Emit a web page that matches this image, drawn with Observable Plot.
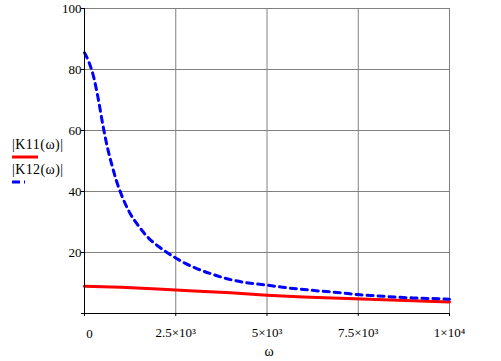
<!DOCTYPE html>
<html><head><meta charset="utf-8">
<script src="https://cdn.jsdelivr.net/npm/d3@7"></script>
<script src="https://cdn.jsdelivr.net/npm/@observablehq/plot@0.6"></script>
<style>body{margin:0;background:#fff} #chart{width:501px;height:361px} #chart svg text{font-family:"Liberation Serif","DejaVu Serif",serif !important}</style>
</head><body><div id="chart"></div>
<script>
const omegaK11 = [0, 1000, 2000, 3000, 4000, 5000, 6000, 7000, 8000, 9000, 10000];
const k11 = [8.9, 8.6, 8.0, 7.4, 6.8, 6.0, 5.4, 5.0, 4.6, 4.2, 3.8];
const omegaK12 = [0, 125, 250, 375, 500, 625, 750, 875, 1000, 1250, 1500, 1750, 2000, 2250, 2500, 2750, 3000, 3500, 4000, 4500, 5000, 5500, 6000, 6500, 7000, 7500, 8000, 8500, 9000, 9500, 10000];
const k12 = [85.5, 82.3, 77.6, 70.5, 62.0, 54.6, 48.7, 43.5, 39.3, 32.8, 28.4, 24.8, 22.2, 20.1, 18.2, 16.5, 15.1, 12.9, 11.1, 10.0, 9.3, 8.5, 7.9, 7.3, 6.8, 6.2, 5.8, 5.4, 5.1, 4.9, 4.7];
const xTicks = [0, 2500, 5000, 7500, 10000];
const xTickLabels = ["0", "2.5×10³", "5×10³", "7.5×10³", "1×10⁴"];
const yTicks = [0, 20, 40, 60, 80, 100];
const yTickLabels = ["", "20", "40", "60", "80", "100"];
const seriesNames = ["|K11(ω)|", "|K12(ω)|"];
const seriesColors = ["#ff0000", "#0000ff"];
const xLabel = "ω";

const d11 = omegaK11.map((w, i) => ({w, v: k11[i]}));
const d12 = omegaK12.map((w, i) => ({w, v: k12[i]}));
const font = "Liberation Serif, DejaVu Serif, serif";

const chart = Plot.plot({
  width: 501, height: 361,
  marginLeft: 84, marginRight: 52, marginTop: 8, marginBottom: 48,
  style: {background: "#fff", color: "#000", fontSize: "13px"},
  x: {domain: [0, 10000], axis: null},
  y: {domain: [0, 100], axis: null},
  marks: [
    Plot.ruleX(xTicks.slice(1), {stroke: "#808080", strokeWidth: 1}),
    Plot.ruleY(yTicks.slice(1), {stroke: "#808080", strokeWidth: 1}),
    Plot.line(d11, {x: "w", y: "v", stroke: seriesColors[0], strokeWidth: 3}),
    Plot.line(d12, {x: "w", y: "v", stroke: seriesColors[1], strokeWidth: 3, strokeDasharray: "6,5", curve: "monotone-x"}),
    Plot.ruleX([0], {stroke: "#000", strokeWidth: 1}),
    Plot.ruleY([0], {stroke: "#000", strokeWidth: 1}),
    Plot.axisX(xTicks, {tickSize: 3, tickPadding: 11, fontSize: 13, fontFamily: font, label: null,
      tickFormat: d => d === 0 ? "" : xTickLabels[xTicks.indexOf(d)]}),
    Plot.text([xTickLabels[0]], {x: xTicks[0], y: 0, dx: 5, dy: 20, text: d => d, fontSize: 13, fontFamily: font}),
    Plot.axisY(yTicks, {tickSize: 3, tickPadding: 0, fontSize: 13, fontFamily: font, label: null,
      tickFormat: d => yTickLabels[yTicks.indexOf(d)]}),
    Plot.text([xLabel], {x: 5000, y: 0, dx: 2, dy: 38, text: d => d, fontSize: 14, fontFamily: font})
  ]
});
document.getElementById("chart").appendChild(chart);

const svg = d3.select(chart);
const g = svg.append("g").attr("font-family", font).attr("font-size", 14).attr("text-anchor", "start");
const legendY = [149, 174];
const lineY = [157, 182];
seriesNames.forEach((name, i) => {
  g.append("text").attr("x", 12).attr("y", legendY[i]).attr("text-anchor", "start")
    .attr("textLength", 51).text(name);
  g.append("line").attr("x1", 12).attr("x2", i === 0 ? 38 : 37)
    .attr("y1", lineY[i]).attr("y2", lineY[i])
    .attr("stroke", seriesColors[i]).attr("stroke-width", 3)
    .attr("stroke-dasharray", i === 0 ? null : "8,4,1,20");
});
</script>
</body></html>
